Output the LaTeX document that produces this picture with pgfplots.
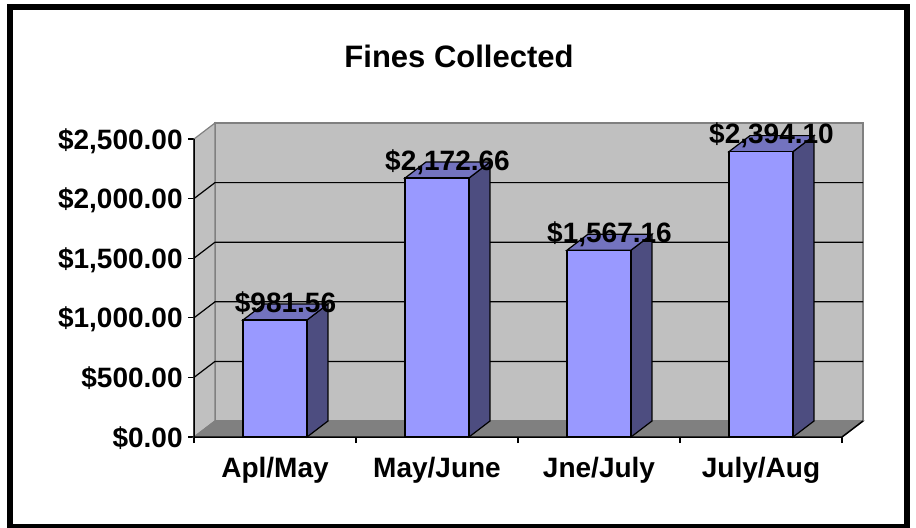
\documentclass[border=0pt]{standalone}
\usepackage{fontspec}
\setmainfont{Liberation Sans}
\usepackage{pgfplots}
\pgfplotsset{compat=1.18}
\usepackage{pgfplotstable}

\definecolor{wall}{HTML}{C0C0C0}
\definecolor{floorc}{HTML}{808080}
\definecolor{barfront}{HTML}{9999FF}
\definecolor{barside}{HTML}{4D4D80}
\definecolor{bartop}{HTML}{7373BF}

% fines per period
\pgfplotstableread{
x y
0 981.56
1 2172.66
2 1567.16
3 2394.10
}\fines

\begin{document}
\begin{tikzpicture}
\useasboundingbox (0,0) rectangle (458pt,263.5pt);
\draw[line width=3pt] (5pt,260pt) rectangle (453.5pt,0pt);
\node[anchor=base, font=\bfseries\fontsize{15.5}{18}\selectfont] at (229.5pt,230pt) {Fines Collected};
\begin{axis}[
  at={(97pt,45pt)}, anchor=south west,
  scale only axis, width=324pt, height=149pt,
  xmin=-0.5, xmax=3.5, ymin=0, ymax=2500,
  clip=false,
  axis line style={draw=none},
  tick pos=left, tick align=outside, major tick length=3pt,
  tick style={black, line width=0.6pt},
  xtick={-0.5,0.5,1.5,2.5,3.5},
  x tick label as interval,
  xticklabels={Apl/May,May/June,Jne/July,July/Aug},
  ytick={0,500,...,2500},
  yticklabel={\$\pgfmathprintnumber{\tick}},
  ticklabel style={font=\bfseries\fontsize{14}{14}\selectfont},
  yticklabel style={anchor=base east, inner sep=0pt, yshift=-5pt, xshift=-2.5pt,
    /pgf/number format/fixed, /pgf/number format/fixed zerofill,
    /pgf/number format/precision=2, /pgf/number format/1000 sep={,},
    /pgf/number format/assume math mode=true},
  xticklabel style={anchor=base, inner sep=0pt, yshift=-17pt},
]
% walls and floor
\addplot[fill=wall, draw=floorc, line width=0.6pt] coordinates {(-0.3704,134.2) (3.6296,134.2) (3.6296,2634.2) (-0.3704,2634.2)} -- cycle;
\addplot[fill=wall, draw=floorc, line width=0.6pt] coordinates {(-0.5,0) (-0.3704,134.2) (-0.3704,2634.2) (-0.5,2500)} -- cycle;
\addplot[fill=floorc, draw=floorc, line width=0.6pt] coordinates {(-0.5,0) (3.5,0) (3.6296,134.2) (-0.3704,134.2)} -- cycle;
% gridlines on the back wall
\pgfplotsinvokeforeach{500,1000,1500,2000}{
  \pgfmathsetmacro\g{#1+134.2}
  \edef\gl{\noexpand\draw[black, line width=0.6pt] (axis cs:-0.5,#1) -- (axis cs:-0.3704,\g) -- (axis cs:3.6296,\g);}
  \gl
}
% side and top faces of the bars
\pgfplotsinvokeforeach{0,1,2,3}{
  \pgfplotstablegetelem{#1}{y}\of\fines
  \pgfmathsetmacro\v{\pgfplotsretval}
  \pgfmathsetmacro\vd{\v+134.2}
  \pgfmathsetmacro\xl{#1-0.1975}
  \pgfmathsetmacro\xr{#1+0.1975}
  \pgfmathsetmacro\xld{\xl+0.1296}
  \pgfmathsetmacro\xrd{\xr+0.1296}
  \edef\faces{%
    \noexpand\addplot[fill=barside, draw=black, line width=0.6pt] coordinates {(\xr,0) (\xrd,134.2) (\xrd,\vd) (\xr,\v)} -- cycle;
    \noexpand\addplot[fill=bartop, draw=black, line width=0.6pt] coordinates {(\xl,\v) (\xr,\v) (\xrd,\vd) (\xld,\vd)} -- cycle;
  }
  \faces
}
% front faces with value labels
\addplot[ybar, bar width=32pt, bar shift=0pt, fill=barfront, draw=black, line width=0.6pt,
  nodes near coords={\$\pgfmathprintnumber{\pgfplotspointmeta}},
  nodes near coords style={font=\bfseries\fontsize{14}{14}\selectfont, text=black,
    anchor=base, xshift=5.25pt, yshift=4pt, inner sep=0pt,
    /pgf/number format/fixed, /pgf/number format/fixed zerofill,
    /pgf/number format/precision=2, /pgf/number format/1000 sep={,},
    /pgf/number format/assume math mode=true}]
  table[x=x, y=y] {\fines};
\draw[black, line width=0.75pt] (axis cs:-0.5,2500) -- (axis cs:-0.5,0) -- (axis cs:3.5,0) -- (axis cs:3.6296,134.2);
\end{axis}
\end{tikzpicture}
\end{document}
